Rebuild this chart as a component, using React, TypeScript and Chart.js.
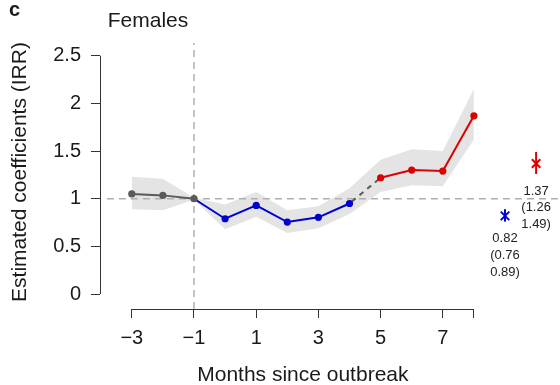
import React, { useEffect, useRef } from "react";
import { Chart, registerables } from "chart.js";

Chart.register(...registerables);

// Monthly incidence rate ratios with their shaded confidence band
const MONTHS = [-3, -2, -1, 0, 1, 2, 3, 4, 5, 6, 7, 8];
const IRR = [1.05, 1.035, 1.0, 0.79, 0.93, 0.755, 0.805, 0.95, 1.22, 1.3, 1.29, 1.87];
const CI_UPPER = [1.23, 1.21, 1.01, 0.94, 1.07, 0.88, 0.92, 1.11, 1.41, 1.52, 1.5, 2.15];
const CI_LOWER = [0.89, 0.88, 0.99, 0.68, 0.81, 0.64, 0.69, 0.84, 1.07, 1.14, 1.13, 1.62];

// Phase boundaries (months)
const PRE_PHASE = [-3, -1];
const EARLY_PHASE = [-1, 4];
const GAP_PHASE = [4, 5];
const LATE_PHASE = [5, 8];

// Pooled estimates shown to the right of the series
const SUMMARY_X = [9, 10];
const SUMMARY_IRR = [0.82, 1.37];
const SUMMARY_LO = [0.76, 1.26];
const SUMMARY_HI = [0.89, 1.49];

// Axis ticks
const X_TICKS = [-3, -1, 1, 3, 5, 7, 8];
const X_TICK_LABELS = ["\u22123", "\u22121", "1", "3", "5", "7", ""];
const Y_TICKS = [0, 0.5, 1, 1.5, 2, 2.5];
const Y_TICK_LABELS = ["0", "0.5", "1", "1.5", "2", "2.5"];

// Reference lines
const REF_LEVEL = 1;
const OUTBREAK_MONTH = -1;

// Scale extents
const X_MIN = -4.022;
const X_MAX = 10.768;
const Y_MIN = -0.157;
const Y_MAX = 2.791;
const REF_H_START = -3.8;
const REF_V_TOP = 2.634;

const W = 560;
const H = 385;
const FONT = "'Liberation Sans', Arial, Helvetica, sans-serif";
const GREY = "#5a5a5a";
const BLUE = "#0000d2";
const RED = "#dc0000";
const SUMMARY_COLORS = [BLUE, RED];

const phase = ([from, to]: number[]) =>
  MONTHS.map((m, i) => ({ x: m, y: IRR[i] })).filter((p) => p.x >= from && p.x <= to);

const overlay = {
  id: "overlay",
  afterDraw(chart: any) {
    const { ctx, chartArea, scales } = chart;
    const xs = scales.x;
    const ys = scales.y;
    ctx.save();
    // axis lines spanning the tick range only
    ctx.strokeStyle = "#333";
    ctx.lineWidth = 1;
    ctx.beginPath();
    const ax = Math.round(chartArea.left) + 0.5;
    ctx.moveTo(ax, ys.getPixelForValue(Y_TICKS[0]));
    ctx.lineTo(ax, ys.getPixelForValue(Y_TICKS[Y_TICKS.length - 1]));
    const ay = Math.round(chartArea.bottom) + 0.5;
    ctx.moveTo(xs.getPixelForValue(X_TICKS[0]), ay);
    ctx.lineTo(xs.getPixelForValue(X_TICKS[X_TICKS.length - 1]), ay);
    ctx.stroke();

    ctx.fillStyle = "#1a1a1a";
    ctx.textBaseline = "middle";

    // panel letter and title
    ctx.font = `bold 20px ${FONT}`;
    ctx.textAlign = "left";
    ctx.fillText("c", 9, 10);
    ctx.font = `21px ${FONT}`;
    ctx.textAlign = "center";
    ctx.fillText("Females", 148, 21);

    // axis titles
    const midX = (xs.getPixelForValue(X_TICKS[0]) + xs.getPixelForValue(X_TICKS[X_TICKS.length - 1])) / 2;
    ctx.fillText("Months since outbreak", midX, 375);
    ctx.save();
    ctx.translate(20, 172);
    ctx.rotate(-Math.PI / 2);
    ctx.fillText("Estimated coefficients (IRR)", 0, 0);
    ctx.restore();

    // pooled estimate labels
    ctx.font = `13px ${FONT}`;
    ctx.fillStyle = "#222";
    SUMMARY_X.forEach((m, i) => {
      const px = xs.getPixelForValue(m);
      const py = ys.getPixelForValue(SUMMARY_LO[i]) + 17;
      const lines = [
        SUMMARY_IRR[i].toFixed(2),
        `(${SUMMARY_LO[i].toFixed(2)}`,
        `${SUMMARY_HI[i].toFixed(2)})`,
      ];
      lines.forEach((t, k) => ctx.fillText(t, px, py + k * 16.7));
    });
    ctx.restore();
  },
};

export default function App() {
  const ref = useRef<HTMLCanvasElement | null>(null);

  useEffect(() => {
    if (!ref.current) return;
    const band = (vals: number[]) => MONTHS.map((m, i) => ({ x: m, y: vals[i] }));
    const early = phase(EARLY_PHASE);

    const chart = new Chart(ref.current, {
      type: "line",
      data: {
        datasets: [
          {
            data: band(CI_UPPER),
            fill: "+1",
            backgroundColor: "#e4e4e4",
            borderColor: "rgba(0,0,0,0)",
            borderWidth: 0,
            pointRadius: 0,
            tension: 0,
            order: 20,
          },
          {
            data: band(CI_LOWER),
            fill: false,
            borderColor: "rgba(0,0,0,0)",
            borderWidth: 0,
            pointRadius: 0,
            tension: 0,
            order: 21,
          },
          {
            data: [
              { x: REF_H_START, y: REF_LEVEL },
              { x: X_MAX, y: REF_LEVEL },
            ],
            borderColor: "#b0b0b0",
            borderWidth: 1.5,
            borderDash: [7, 5],
            pointRadius: 0,
            fill: false,
            order: 15,
          },
          {
            data: [
              { x: OUTBREAK_MONTH, y: Y_MIN },
              { x: OUTBREAK_MONTH, y: REF_V_TOP },
            ],
            borderColor: "#b0b0b0",
            borderWidth: 1.5,
            borderDash: [7, 5],
            pointRadius: 0,
            fill: false,
            order: 15,
          },
          {
            data: phase(GAP_PHASE),
            borderColor: GREY,
            borderWidth: 2,
            borderDash: [5, 5],
            borderDashOffset: -3,
            pointRadius: 0,
            fill: false,
            order: 4,
          },
          {
            data: early,
            borderColor: BLUE,
            backgroundColor: BLUE,
            borderWidth: 2,
            pointRadius: early.map((p) => (p.x === OUTBREAK_MONTH ? 0 : 3.6)),
            pointBorderWidth: 0,
            fill: false,
            order: 3,
          },
          {
            data: phase(PRE_PHASE),
            borderColor: GREY,
            backgroundColor: GREY,
            borderWidth: 2,
            pointRadius: 3.6,
            pointBorderWidth: 0,
            fill: false,
            order: 2,
          },
          {
            data: phase(LATE_PHASE),
            borderColor: RED,
            backgroundColor: RED,
            borderWidth: 2,
            pointRadius: 3.6,
            pointBorderWidth: 0,
            fill: false,
            order: 1,
          },
          ...SUMMARY_X.map((m, i) => ({
            data: [
              { x: m, y: SUMMARY_LO[i] },
              { x: m, y: SUMMARY_HI[i] },
            ],
            borderColor: SUMMARY_COLORS[i],
            borderWidth: 2,
            pointRadius: 0,
            fill: false,
            order: 0,
          })),
          {
            data: SUMMARY_X.map((m, i) => ({ x: m, y: SUMMARY_IRR[i] })),
            showLine: false,
            pointStyle: "crossRot",
            pointRadius: 6,
            pointBorderWidth: 2,
            pointBorderColor: SUMMARY_COLORS,
            pointBackgroundColor: SUMMARY_COLORS,
            fill: false,
            order: 0,
          },
        ] as any,
      },
      options: {
        animation: false,
        responsive: false,
        devicePixelRatio: 1,
        events: [],
        layout: { autoPadding: false, padding: { top: 28, left: 0, right: 0, bottom: 0 } },
        plugins: { legend: { display: false }, tooltip: { enabled: false } },
        elements: { line: { tension: 0 } },
        scales: {
          x: {
            type: "linear",
            min: X_MIN,
            max: X_MAX,
            afterFit: (s: any) => {
              s.height = 76;
              s.paddingLeft = 0;
              s.paddingRight = 0;
            },
            afterBuildTicks: (s: any) => {
              s.ticks = X_TICKS.map((v) => ({ value: v }));
            },
            grid: {
              drawOnChartArea: false,
              drawTicks: true,
              tickLength: 9,
              color: "#333",
            },
            border: { display: false },
            ticks: {
              autoSkip: false,
              maxRotation: 0,
              padding: 8,
              color: "#1a1a1a",
              font: { family: FONT, size: 20 },
              callback: (v: any) => X_TICK_LABELS[X_TICKS.indexOf(Number(v))] ?? "",
            },
          },
          y: {
            type: "linear",
            min: Y_MIN,
            max: Y_MAX,
            afterFit: (s: any) => {
              s.width = 100;
              s.paddingTop = 0;
              s.paddingBottom = 0;
            },
            afterBuildTicks: (s: any) => {
              s.ticks = Y_TICKS.map((v) => ({ value: v }));
            },
            grid: {
              drawOnChartArea: false,
              drawTicks: true,
              tickLength: 9,
              color: "#333",
            },
            border: { display: false },
            ticks: {
              padding: 10,
              color: "#1a1a1a",
              font: { family: FONT, size: 20 },
              callback: (v: any) => Y_TICK_LABELS[Y_TICKS.indexOf(Number(v))] ?? "",
            },
          },
        },
      } as any,
      plugins: [overlay],
    });
    return () => chart.destroy();
  }, []);

  return (
    <div style={{ position: "absolute", left: 0, top: 0, width: W, height: H, background: "#fff" }}>
      <canvas ref={ref} width={W} height={H} style={{ width: W, height: H, display: "block" }} />
    </div>
  );
}
